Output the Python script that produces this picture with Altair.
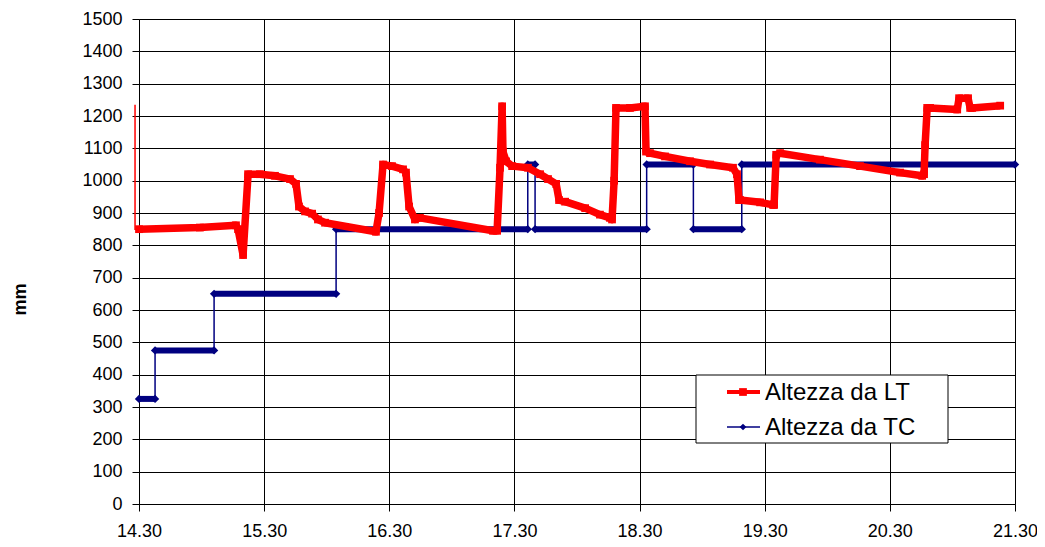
import altair as alt
import pandas as pd

# ---- data (minutes after 14:30) ----
lt_min = [0, 29.2, 46.5, 47.5, 49.9, 52.3, 58.0, 65.2, 72.4, 75.3, 76.7, 79.6, 83.0, 85.8, 89.2,
          113.6, 115.1, 117.0, 121.3, 126.6, 128.0, 129.5, 132.3, 134.7, 169.7,
          171.7, 173.1, 174.1, 174.5, 176.0, 178.9, 186.5, 192.3, 196.1, 200.0, 201.4,
          204.3, 213.9, 221.0, 225.8, 226.8, 227.8, 228.7, 235.4, 242.6, 243.1, 245.0,
          252.2, 264.2, 273.8, 284.8, 286.7, 287.7, 288.2, 297.8, 304.0, 304.5, 305.5,
          307.4, 326.5, 345.7, 364.9, 375.5, 376.4, 376.9, 377.9, 379.3, 392.3, 393.2,
          397.5, 398.5, 399.4, 412.9]
lt_mm = [850, 855, 862, 850, 770, 1020, 1020, 1015, 1005, 990, 920, 905, 898, 880, 870,
         842, 900, 1050, 1045, 1035, 1025, 920, 880, 885, 845,
         845, 1040, 1230, 1090, 1060, 1045, 1040, 1020, 1005, 990, 940,
         935, 915, 895, 885, 880, 1000, 1225, 1225, 1230, 1090, 1085,
         1075, 1060, 1050, 1040, 1020, 940, 940, 933, 925, 925, 1080,
         1085, 1065, 1045, 1025, 1015, 1020, 1110, 1225, 1225, 1220, 1255,
         1255, 1225, 1225, 1232]

lead_min = [-1.9, -1.9, 0]
lead_mm = [1235, 850, 850]

tc_start = [0, 7.7, 36.0, 94.5, 186.4, 189.9, 243.4, 265.8, 289.0]
tc_end = [7.7, 36.0, 94.5, 186.4, 189.9, 243.4, 265.8, 289.0, 420]
tc_mm = [325, 475, 650, 850, 1050, 850, 1050, 850, 1050]

x_ticks = [0, 60, 120, 180, 240, 300, 360, 420]
y_ticks = list(range(0, 1600, 100))

RED = "#FF0000"
BLUE = "#000080"
FONT = "Liberation Sans"

lt = pd.DataFrame({"t": lt_min, "v": lt_mm})
lead = pd.DataFrame({"t": lead_min, "v": lead_mm})
seg = pd.DataFrame({"t": tc_start, "e": tc_end, "v": tc_mm})
step_rows = []
for s, e, v in zip(tc_start, tc_end, tc_mm):
    step_rows.append({"t": s, "v": v})
    step_rows.append({"t": e, "v": v})
step = pd.DataFrame(step_rows)
ends = pd.DataFrame({"t": tc_start + tc_end, "v": tc_mm + tc_mm})

xs = alt.Scale(domain=[0, 420], nice=False, zero=False)
ys = alt.Scale(domain=[0, 1500], nice=False)

x_axis = alt.Axis(values=x_ticks, title=None,
                  labelExpr="(floor(datum.value/60)+14) + '.30'",
                  labelFlush=False, labelOverlap=False,
                  grid=True, gridColor="#000", gridWidth=1,
                  domainColor="#000", tickColor="#000", tickSize=7,
                  labelFontSize=18, labelFont=FONT, labelColor="#000",
                  labelPadding=11)
y_axis = alt.Axis(values=y_ticks, format="d", title="mm", grid=True, gridColor="#000",
                  gridWidth=1, labelFlush=False, labelOverlap=False,
                  domainColor="#000", tickColor="#000", tickSize=7,
                  labelFontSize=18, labelFont=FONT, labelColor="#000", labelPadding=10,
                  titleFont=FONT, titleFontSize=18, titleFontWeight="bold", titleColor="#000",
                  titleAngle=-90, titleX=-119, titleY=280, titleAlign="center",
                  titleBaseline="middle")

X = alt.X("t:Q", scale=xs, axis=x_axis)
Y = alt.Y("v:Q", scale=ys, axis=y_axis)

lead_line = alt.Chart(lead).mark_line(color=RED, strokeWidth=1.5, clip=False).encode(
    x=X, y=Y, order=alt.Order("idx:Q")).transform_window(idx="row_number()")

tc_line = alt.Chart(step).mark_line(color=BLUE, strokeWidth=1.5).encode(
    x=X, y=Y, order=alt.Order("idx:Q")).transform_window(idx="row_number()")

tc_band = alt.Chart(seg).mark_rule(color=BLUE, strokeWidth=6).encode(
    x=X, x2="e:Q", y=Y)

tc_tips = alt.Chart(ends).mark_point(shape="diamond", filled=True, color=BLUE, size=70,
                                      opacity=1).encode(x=X, y=Y)

lt_line = alt.Chart(lt).mark_line(color=RED, strokeWidth=7.5, strokeJoin="round").encode(
    x=X, y=Y, order=alt.Order("idx:Q")).transform_window(idx="row_number()")
lt_pts = alt.Chart(lt).mark_point(shape="square", filled=True, color=RED, size=60,
                                  opacity=1).encode(x=X, y=Y)

one = pd.DataFrame({"a": [0]})
lg_box = alt.Chart(one).mark_rect(fill="white", stroke="#000", strokeWidth=1).encode(
    x=alt.value(557), x2=alt.value(809), y=alt.value(356), y2=alt.value(424))
lg_red = alt.Chart(one).mark_rule(color=RED, strokeWidth=4).encode(
    x=alt.value(588), x2=alt.value(621), y=alt.value(373))
lg_red_pt = alt.Chart(one).mark_point(shape="square", filled=True, color=RED, size=60,
                                      opacity=1).encode(x=alt.value(604), y=alt.value(373))
lg_blue = alt.Chart(one).mark_rule(color=BLUE, strokeWidth=1.5).encode(
    x=alt.value(588), x2=alt.value(621), y=alt.value(408))
lg_blue_pt = alt.Chart(one).mark_point(shape="diamond", filled=True, color=BLUE, size=45,
                                       opacity=1).encode(x=alt.value(604), y=alt.value(408))
lg_t1 = alt.Chart(one).mark_text(text="Altezza da LT", align="left", baseline="middle",
                                 font=FONT, fontSize=24, color="#000").encode(
    x=alt.value(626), y=alt.value(374))
lg_t2 = alt.Chart(one).mark_text(text="Altezza da TC", align="left", baseline="middle",
                                 font=FONT, fontSize=24, color="#000").encode(
    x=alt.value(626), y=alt.value(409))

chart = alt.layer(
    lead_line, tc_line, tc_band, tc_tips, lt_line, lt_pts,
    lg_box, lg_red, lg_red_pt, lg_blue, lg_blue_pt, lg_t1, lg_t2
).properties(
    width=876, height=485,
    padding={"left": 131, "top": 11, "right": 22, "bottom": 38},
    autosize=alt.AutoSizeParams(type="none"),
    background="white",
).configure_view(stroke=None)

chart.save("out.html", embed_options={"renderer": "svg", "actions": False})
